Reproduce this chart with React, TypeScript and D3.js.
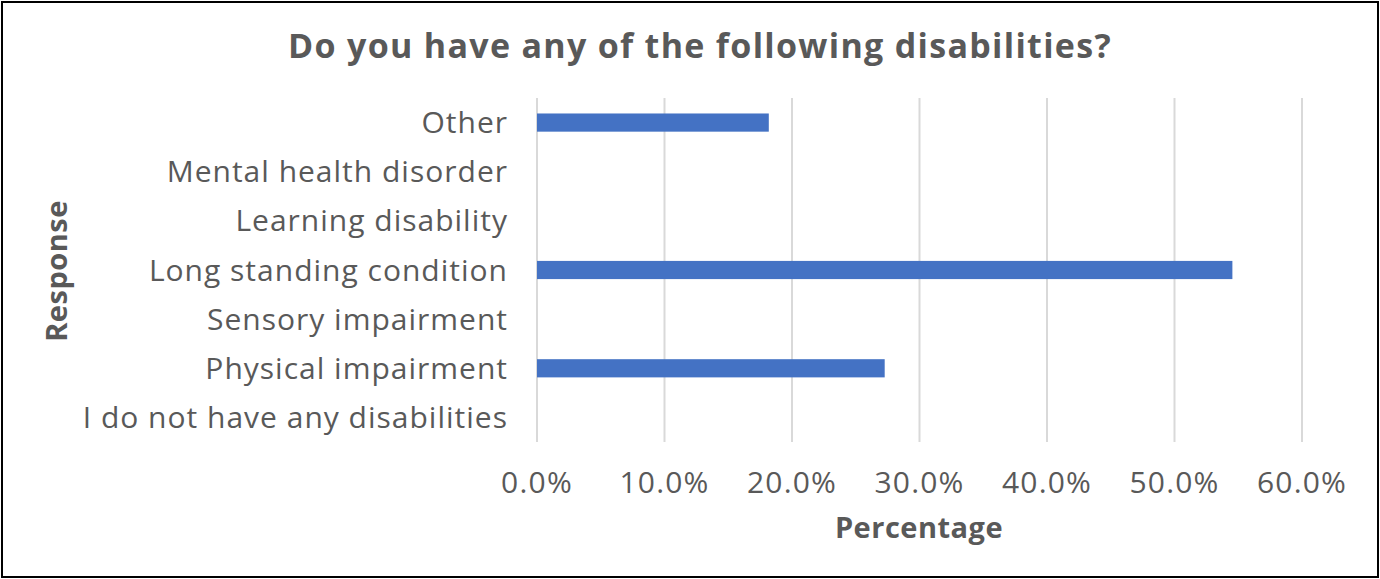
import React from "react";
import * as d3 from "d3";

const categories = [
  "I do not have any disabilities",
  "Physical impairment",
  "Sensory impairment",
  "Long standing condition",
  "Learning disability",
  "Mental health disorder",
  "Other",
];
const values = [0, 0.2727, 0, 0.5454, 0, 0, 0.1818];
const xTicks = [0, 0.1, 0.2, 0.3, 0.4, 0.5, 0.6];

const W = 1380;
const H = 579;
const M = { left: 537, right: 1302, top: 98, bottom: 442 };
const FONT = "'Open Sans', 'Noto Sans', sans-serif";
const TEXT = "#595959";

export default function App() {
  const x = d3.scaleLinear().domain([0, 0.6]).range([M.left, M.right]);
  const y = d3
    .scaleBand<string>()
    .domain([...categories].reverse())
    .range([M.top, M.bottom])
    .paddingInner(0.63)
    .paddingOuter(0.315);
  const fmt = d3.format(".1%");

  return (
    <svg
      width={W}
      height={H}
      style={{ position: "absolute", left: 0, top: 0, background: "#fff" }}
    >
      <rect x={2} y={2} width={W - 4} height={H - 4} fill="#fff" stroke="#000" strokeWidth={2} />
      <text
        x={700}
        y={58}
        textAnchor="middle"
        fontFamily={FONT}
        fontWeight="bold"
        fontSize={34}
        letterSpacing={1.3}
        fill={TEXT}
      >
        Do you have any of the following disabilities?
      </text>
      {xTicks.map((t) => (
        <line
          key={"g" + t}
          x1={x(t)}
          x2={x(t)}
          y1={M.top}
          y2={M.bottom}
          stroke="#d9d9d9"
          strokeWidth={2}
        />
      ))}
      {categories.map((c, i) => (
        <rect
          key={c}
          x={x(0)}
          y={y(c)!}
          width={x(values[i]) - x(0)}
          height={y.bandwidth()}
          fill="#4472c4"
        />
      ))}
      {categories.map((c) => (
        <text
          key={"l" + c}
          x={508}
          y={y(c)! + y.bandwidth() / 2}
          dy="0.35em"
          textAnchor="end"
          fontFamily={FONT}
          fontSize={30}
          letterSpacing={1}
          fill={TEXT}
        >
          {c}
        </text>
      ))}
      {xTicks.map((t) => (
        <text
          key={"t" + t}
          x={x(t)}
          y={482}
          dy="0.35em"
          textAnchor="middle"
          fontFamily={FONT}
          fontSize={30}
          letterSpacing={1.2}
          fill={TEXT}
        >
          {fmt(t)}
        </text>
      ))}
      <text
        x={919}
        y={528}
        dy="0.35em"
        textAnchor="middle"
        fontFamily={FONT}
        fontWeight="bold"
        fontSize={29}
        letterSpacing={0.5}
        fill={TEXT}
      >
        Percentage
      </text>
      <text
        transform={`translate(57,271) rotate(-90)`}
        dy="0.35em"
        textAnchor="middle"
        fontFamily={FONT}
        fontWeight="bold"
        fontSize={29}
        letterSpacing={0.5}
        fill={TEXT}
      >
        Response
      </text>
    </svg>
  );
}
